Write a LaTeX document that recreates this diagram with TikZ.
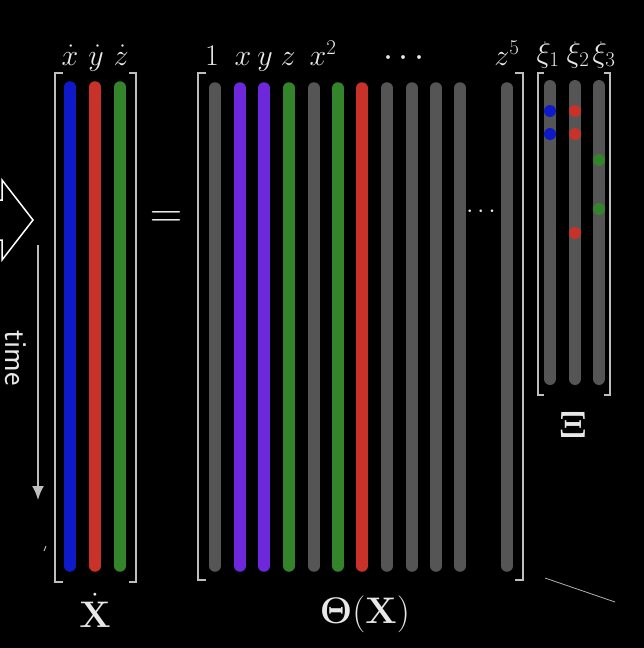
\RequirePackage{fix-cm}
\documentclass[tikz,border=0pt]{standalone}
\usepackage{amsmath}
\usetikzlibrary{arrows.meta}

\definecolor{colblue}{RGB}{14,26,200}
\definecolor{colred}{RGB}{200,50,40}
\definecolor{colgreen}{RGB}{52,132,44}
\definecolor{colpurple}{RGB}{108,40,218}
\definecolor{colgray}{RGB}{85,85,85}
\definecolor{brk}{RGB}{190,190,190}
\definecolor{lbl}{RGB}{232,232,232}

\tikzset{
  bracket/.style={draw=brk, line width=2pt},
  column/.style={line width=11.5pt, line cap=round},
  toplabel/.style={text=lbl, inner sep=0pt, anchor=base, font=\fontsize{30}{30}\selectfont},
  biglabel/.style={text=lbl, inner sep=0pt, anchor=base, font=\fontsize{37}{37}\selectfont},
  coef/.style={circle, fill=#1, inner sep=0pt, minimum size=12pt},
}

\begin{document}
\begin{tikzpicture}[x=1pt, y=-1pt, >=Latex]
  % Canvas
  \useasboundingbox (0,0) rectangle (644,648);
  \fill[black] (0,0) rectangle (644,648);
  \clip (0,0) rectangle (644,648);

  % Hollow arrow and time axis
  \draw[white, line width=1.5pt, line join=miter] (-30,200) -- (2,200) -- (2,180) -- (33,220)
    -- (2,260) -- (2,240) -- (-30,240);
  \coordinate (t0) at (38,245);
  \coordinate (t1) at (38,500);
  \draw[brk, line width=2pt, -{Latex[length=14pt,width=12pt]}] (t0) -- (t1);
  \node[text=lbl, rotate=-90, font=\sffamily\fontsize{32}{32}\selectfont] (time) at (16,358) {time};
  \draw[brk, line width=1pt] (44,551) -- (46,546);

  % Left matrix: derivatives
  \draw[bracket] (63,73) -- (55,73) -- (55,582) -- (63,582);
  \draw[bracket] (129,73) -- (136,73) -- (136,582) -- (129,582);
  \foreach \x/\c in {70/colblue, 95/colred, 120/colgreen}
    \draw[column, \c] (\x,87) -- (\x,566);
  \node[toplabel] (xd) at (70,65) {$\dot{x}$};
  \node[toplabel] (yd) at (96,65) {$\dot{y}$};
  \node[toplabel] (zd) at (121,65) {$\dot{z}$};
  \node[biglabel] (Xdot) at (95,627) {$\dot{\mathbf{X}}$};

  % Equals
  \node[text=lbl, inner sep=0pt, font=\fontsize{45}{45}\selectfont] (eq) at (166,219) {$=$};

  % Library matrix
  \draw[bracket] (206,73) -- (198,73) -- (198,580) -- (206,580);
  \draw[bracket] (515,73) -- (523,73) -- (523,580) -- (515,580);
  \foreach \x/\c in {215/colgray, 240/colpurple, 264/colpurple, 289/colgreen, 314/colgray,
      338/colgreen, 362/colred, 387/colgray, 412/colgray, 436/colgray, 460/colgray, 507/colgray}
    \draw[column, \c] (\x,88) -- (\x,566);
  \node[toplabel] (one) at (212,65) {$1$};
  \node[toplabel] (lx) at (243,65) {$x$};
  \node[toplabel] (ly) at (265,65) {$y$};
  \node[toplabel] (lz) at (288,65) {$z$};
  \node[toplabel] (lxx) at (323,65) {$x^2$};
  \node[toplabel, font=\fontsize{36}{36}\selectfont] (ldots) at (407,66) {$\cdots$};
  \node[toplabel] (lz5) at (507,65) {$z^5$};
  \node[text=lbl, inner sep=0pt, font=\fontsize{25}{25}\selectfont] (mdots) at (483,212) {$\cdots$};
  \node[biglabel] (Theta) at (365,623) {$\mathbf{\Theta(X)}$};

  % Coefficient matrix
  \draw[bracket] (544,73) -- (538,73) -- (538,395) -- (544,395);
  \draw[bracket] (604,73) -- (610,73) -- (610,395) -- (604,395);
  \foreach \x in {550, 575, 599}
    \draw[column, colgray, line width=12pt] (\x,86) -- (\x,379);
  \node[toplabel] (xi1) at (548,62) {$\xi_1$};
  \node[toplabel] (xi2) at (578,62) {$\xi_2$};
  \node[toplabel] (xi3) at (604,62) {$\xi_3$};
  \node[coef=colblue] (b1) at (550,111) {};
  \node[coef=colblue] (b2) at (550,134) {};
  \node[coef=colred] (r1) at (575,111) {};
  \node[coef=colred] (r2) at (575,134) {};
  \node[coef=colred] (r3) at (575,233) {};
  \node[coef=colgreen] (g1) at (599,160) {};
  \node[coef=colgreen] (g2) at (599,209) {};
  \node[biglabel] (Xi) at (573,437) {$\mathbf{\Xi}$};

  % Stray stroke
  \draw[gray!60, line width=0.8pt] (545,578) -- (615,602);
\end{tikzpicture}
\end{document}
